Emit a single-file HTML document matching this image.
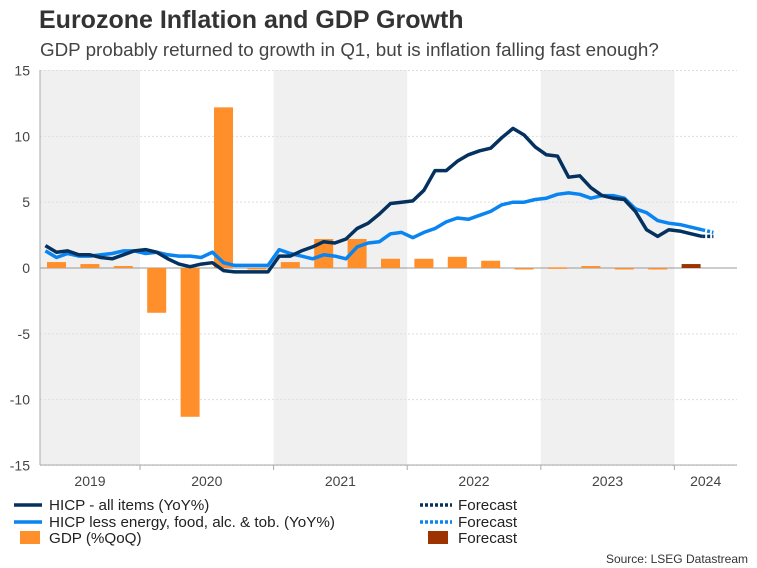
<!DOCTYPE html>
<html><head><meta charset="utf-8"><style>
body{margin:0;background:#fff;font-family:"Liberation Sans",Arial,sans-serif;}
#wrap{position:relative;width:757px;height:568px;overflow:hidden;}
</style></head><body>
<div id="wrap">
<svg id="chart" width="757" height="568">
<text x="39" y="28" font-size="25" font-weight="bold" fill="#333">Eurozone Inflation and GDP Growth</text>
<text x="40" y="56" font-size="18.8" fill="#444">GDP probably returned to growth in Q1, but is inflation falling fast enough?</text>
<g id="bands"></g><g id="grid"></g><g id="bars"></g><g id="lines"></g><g id="axes"></g><g id="legend"></g>
<text x="748" y="563" font-size="12" fill="#333" text-anchor="end">Source: LSEG Datastream</text>
</svg></div>
<script>
const years=["2019","2020","2021","2022","2023","2024"];
const yTicks=[15,10,5,0,-5,-10,-15];
// monthly from Apr 2019
const hicp=[1.7,1.2,1.3,1.0,1.0,0.8,0.7,1.0,1.3,
1.4,1.2,0.7,0.3,0.1,0.3,0.4,-0.2,-0.3,-0.3,-0.3,-0.3,
0.9,0.9,1.3,1.6,2.0,1.9,2.2,3.0,3.4,4.1,4.9,5.0,
5.1,5.9,7.4,7.4,8.1,8.6,8.9,9.1,9.9,10.6,10.1,9.2,
8.6,8.5,6.9,7.0,6.1,5.5,5.3,5.2,4.3,2.9,2.4,2.9,
2.8,2.6,2.4];
const hicpFc=[2.4,2.4];
const core=[1.3,0.8,1.1,0.9,0.9,1.0,1.1,1.3,1.3,
1.1,1.2,1.0,0.9,0.9,0.8,1.2,0.4,0.2,0.2,0.2,0.2,
1.4,1.1,0.9,0.7,1.0,0.9,0.7,1.6,1.9,2.0,2.6,2.7,
2.3,2.7,3.0,3.5,3.8,3.7,4.0,4.3,4.8,5.0,5.0,5.2,
5.3,5.6,5.7,5.6,5.3,5.5,5.5,5.3,4.5,4.2,3.6,3.4,
3.3,3.1,2.9];
const coreFc=[2.9,2.7];
// quarterly from 2019Q2
const gdp=[0.45,0.3,0.15,-3.4,-11.3,12.2,-0.05,0.45,2.2,2.2,0.7,0.7,0.85,0.55,-0.05,0.05,0.15,-0.1,-0.1];
const gdpFc=[0.3];
const NS="http://www.w3.org/2000/svg";
const L=40,R=737,T=70,B=465,yr0=140,mw=133.6/12;
const x=m=>yr0+(m-12+0.5)*mw;
const y=v=>268-v*(B-T)/30;
function mk(p,t,a){const e=document.createElementNS(NS,t);for(const k in a)e.setAttribute(k,a[k]);p.appendChild(e);return e;}
const g=id=>document.getElementById(id);
years.forEach((yy,i)=>{if(i%2===0){const x0=Math.max(L,yr0+(i-1)*133.6),x1=Math.min(R,yr0+i*133.6);
const r=mk(g('bands'),'rect',{x:x0,y:T,width:x1-x0,height:B-T,fill:'#f0f0f0'});

}});
yTicks.forEach(v=>{
const ln=mk(g('grid'),'line',{x1:L,x2:R,y1:y(v),y2:y(v),stroke:v===0?'#999':'#ddd','stroke-dasharray':v===0?'':'2,2','stroke-width':1});


const t=mk(g('axes'),'text',{x:30,y:y(v)+5,'font-size':14,fill:'#444','text-anchor':'end'});t.textContent=v;

});
mk(g('axes'),'line',{x1:L,x2:L,y1:T,y2:B,stroke:'#aaa'});
mk(g('axes'),'line',{x1:L,x2:R,y1:B,y2:B,stroke:'#aaa'});
years.forEach((yy,i)=>{const xb=yr0+(i-1)*133.6;
if(i>0)mk(g('axes'),'line',{x1:xb,x2:xb,y1:B,y2:B+5,stroke:'#aaa'});
const x0=Math.max(L,xb),x1=Math.min(R,xb+133.6);
const t=mk(g('axes'),'text',{x:(x0+x1)/2,y:B+21,'font-size':14,fill:'#444','text-anchor':'middle'});t.textContent=yy;

});
function bar(q,v,col){const m=3+q*3+1;const yv=y(v),y0=y(0);
const r=mk(g('bars'),'rect',{x:x(m)-9.5,y:Math.min(yv,y0),width:19,height:Math.max(1.5,Math.abs(yv-y0)),fill:col});

}
gdp.forEach((v,i)=>bar(i,v,'#ff8f2b'));
gdpFc.forEach((v,i)=>bar(gdp.length+i,v,'#9c3300'));
function line(arr,start,col,dash,name){const pts=arr.map((v,i)=>x(start+i).toFixed(1)+','+y(v).toFixed(1)).join(' ');
const p=mk(g('lines'),'polyline',{points:pts,fill:'none',stroke:col,'stroke-width':3.5,'stroke-linejoin':'round','stroke-dasharray':dash});

}
line(core,3,'#0a84f0','','core-hicp-line');
line(hicp,3,'#05315e','','hicp-line');
line(coreFc,3+core.length-1,'#0a84f0','3,2','core-forecast-line');
line(hicpFc,3+hicp.length-1,'#05315e','3,2','hicp-forecast-line');
const leg=[[510,'HICP - all items (YoY%)','#05315e','line'],[527,'HICP less energy, food, alc. & tob. (YoY%)','#0a84f0','line'],[543,'GDP (%QoQ)','#ff8f2b','bar']];
const legR=[[510,'#05315e','line'],[527,'#0a84f0','line'],[543,'#9c3300','bar']];
leg.forEach(([yy,txt,c,k])=>{
if(k==='line')mk(g('legend'),'line',{x1:14,x2:42,y1:yy-5,y2:yy-5,stroke:c,'stroke-width':3.5});
else mk(g('legend'),'rect',{x:20,y:yy-12,width:20,height:13,fill:c});
const t=mk(g('legend'),'text',{x:49,y:yy,'font-size':15.2,fill:'#222'});t.textContent=txt;

});
legR.forEach(([yy,c,k])=>{
if(k==='line')mk(g('legend'),'line',{x1:420,x2:452,y1:yy-5,y2:yy-5,stroke:c,'stroke-width':3.5,'stroke-dasharray':'3,2'});
else mk(g('legend'),'rect',{x:428,y:yy-12,width:20,height:13,fill:c});
const t=mk(g('legend'),'text',{x:458,y:yy,'font-size':15.2,fill:'#222'});t.textContent='Forecast';

});
</script>
</body></html>
